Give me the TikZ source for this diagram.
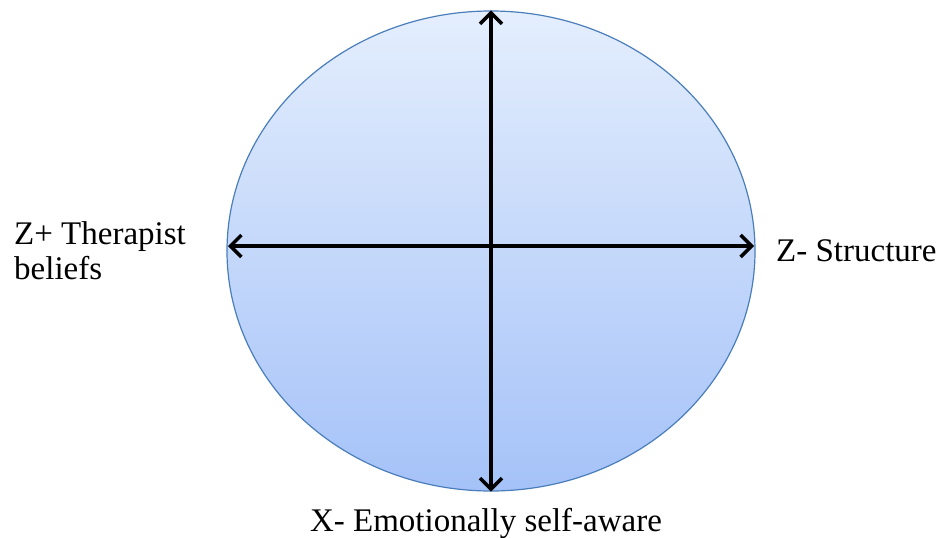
\documentclass[tikz,border=0pt]{standalone}
\usepackage{fontspec}
\setmainfont{Liberation Serif}
\usetikzlibrary{arrows.meta,shapes.geometric,calc}
\definecolor{rim}{HTML}{4A7EBB}
\definecolor{topfill}{HTML}{E4EEFD}
\definecolor{botfill}{HTML}{A5C2F8}
\tikzset{
  axis/.style={line width=3.5pt,{Straight Barb[length=11pt,width=22pt]}-{Straight Barb[length=11pt,width=22pt]}},
  lbl/.style={font=\fontsize{33}{35}\selectfont,inner sep=0pt}
}
\begin{document}
\begin{tikzpicture}[x=1pt,y=-1pt]
\useasboundingbox (0,0) rectangle (945,538);
\node[ellipse,draw=rim,line width=1.2pt,top color=topfill,bottom color=botfill,
  minimum width=528,minimum height=480,inner sep=0pt] (e) at (491,251) {};
\coordinate (l) at (228,246);
\coordinate (r) at (754,246);
\draw[axis] (e.north) -- (e.south);
\draw[axis] (l) -- (r);
\node[lbl,anchor=base west,align=left] (zp) at (14,279) {Z+ Therapist\\beliefs};
\node[lbl,anchor=base west] (zm) at (776,261) {Z- Structure};
\node[lbl,anchor=base] (xm) at (486,531) {X- Emotionally self-aware};
\end{tikzpicture}
\end{document}
